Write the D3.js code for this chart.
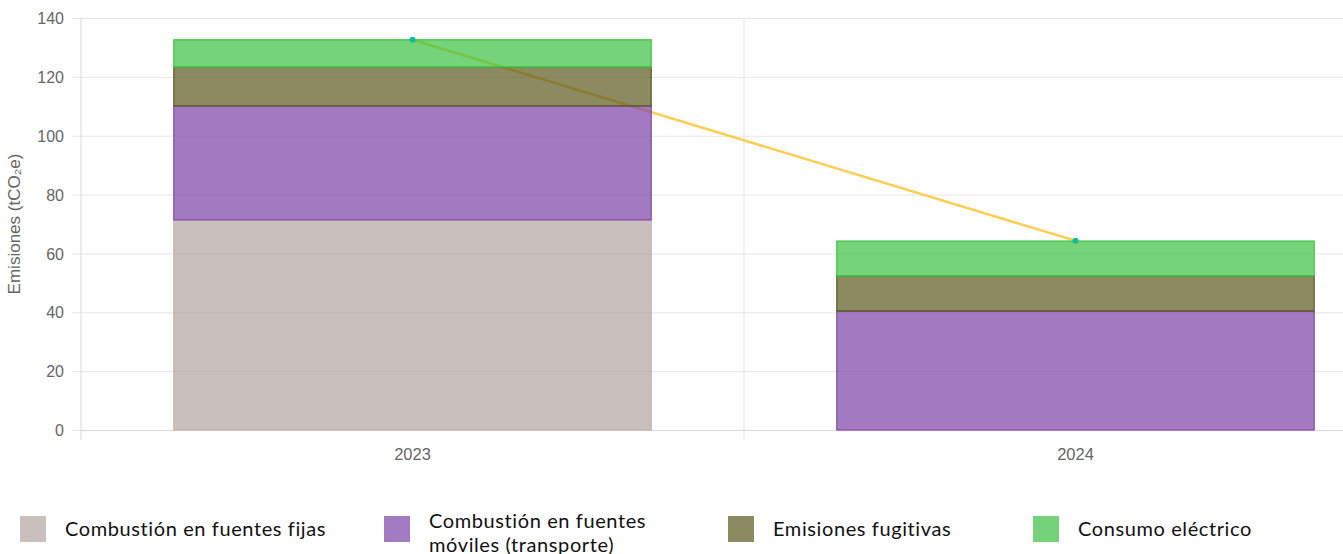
<!DOCTYPE html>
<html>
<head>
<meta charset="utf-8">
<script src="https://cdn.jsdelivr.net/npm/d3@7/dist/d3.min.js"></script>
<style>
  body { margin: 0; background: #fff; overflow: hidden; }
  svg { display: block; }
  .axis text { font-family: "Liberation Sans", Arial, sans-serif; font-size: 16px; fill: #666; }
  .legend text { font-family: Lato, "Noto Sans", sans-serif; font-size: 20px; letter-spacing: 0.6px; fill: #111; }
</style>
</head>
<body>
<svg id="chart" width="1343" height="554"></svg>
<script>
// data
const years = ['2023', '2024'];
const fijas = [71.4, 0];
const moviles = [38.7, 40.4];
const fugitivas = [13.2, 11.9];
const electrico = [9.3, 11.9];
const totals = [132.6, 64.3];
const yTicks = [0, 20, 40, 60, 80, 100, 120, 140];

const seriesNames = ['Combustión en fuentes fijas', 'Combustión en fuentes móviles (transporte)', 'Emisiones fugitivas', 'Consumo eléctrico'];
const seriesValues = [fijas, moviles, fugitivas, electrico];
const fills = ['rgb(178,164,161)', 'rgb(124,66,168)', 'rgb(91,88,28)', 'rgb(59,194,65)'];
const strokes = ['#c2b3b0', '#8e44ad', '#5b5a26', '#3cc43c'];
const legendColors = ['#c9bfbd', '#a37bc2', '#8c8a60', '#74d378'];

const svg = d3.select('#chart');
const plotL = 81, plotT = 18, plotB = 430, plotR = 1407; // plot runs past the window edge

const x = d3.scaleBand().domain(years).range([plotL, plotR]).paddingInner(0.28).paddingOuter(0.14);
const y = d3.scaleLinear().domain([0, 140]).range([plotB, plotT]);

// horizontal grid + y axis
const yAxis = d3.axisLeft(y).tickValues(yTicks).tickSize(-(plotR - plotL)).tickPadding(17);
const gy = svg.append('g').attr('class', 'axis').attr('transform', `translate(${plotL},0)`).call(yAxis);
gy.select('.domain').remove();
gy.selectAll('.tick line').attr('stroke', '#e6e6e6').attr('x1', -9);
gy.selectAll('.tick text').attr('dy', '0.35em');

// vertical grid at category boundaries
const step = x.step();
const bounds = [plotL, plotL + step, plotL + 2 * step];
svg.append('g').selectAll('line').data(bounds).join('line')
  .attr('x1', d => d).attr('x2', d => d)
  .attr('y1', plotT).attr('y2', plotB + 10)
  .attr('stroke', (d, i) => i === 0 ? '#d9d9d9' : '#e6e6e6');

// x axis
const gx = svg.append('g').attr('class', 'axis').attr('transform', `translate(0,${plotB})`)
  .call(d3.axisBottom(x).tickSize(0).tickPadding(18));
gx.select('.domain').attr('stroke', '#d9d9d9').attr('d', `M${plotL},0.5H${plotR}`);
gx.selectAll('.tick text').style('font-size', '16.5px');

// total line (drawn beneath translucent bars)
const line = d3.line().x((d, i) => x(years[i]) + x.bandwidth() / 2).y(d => y(d));
svg.append('path').datum(totals)
  .attr('d', line).attr('fill', 'none')
  .attr('stroke', '#fcc634').attr('stroke-width', 2.5).attr('stroke-opacity', 0.85);

// stacked bars
const rows = years.map((yr, i) => {
  const r = { year: yr };
  seriesNames.forEach((n, k) => r[n] = seriesValues[k][i]);
  return r;
});
const stacked = d3.stack().keys(seriesNames)(rows);
svg.append('g').selectAll('g').data(stacked).join('g')
  .attr('fill', (d, i) => fills[i]).attr('fill-opacity', 0.7)
  .attr('stroke', (d, i) => strokes[i]).attr('stroke-width', 1.2)
  .selectAll('rect').data(d => d.filter(v => v[1] - v[0] > 0)).join('rect')
  .attr('x', d => x(d.data.year))
  .attr('width', x.bandwidth())
  .attr('y', d => y(d[1]))
  .attr('height', d => y(d[0]) - y(d[1]));

// points of the total line
svg.append('g').selectAll('circle').data(totals).join('circle')
  .attr('cx', (d, i) => x(years[i]) + x.bandwidth() / 2)
  .attr('cy', d => y(d))
  .attr('r', 3).attr('fill', '#0bbf9c');

// y axis title
svg.append('text')
  .attr('transform', 'translate(20,224) rotate(-90)')
  .attr('text-anchor', 'middle')
  .style('font-family', '"Liberation Sans", Arial, sans-serif')
  .style('font-size', '17px').attr('fill', '#666')
  .text('Emisiones (tCO₂e)');

// legend
const legendX = [20, 384, 728, 1033];
const legendLines = [['Combustión en fuentes fijas'], ['Combustión en fuentes', 'móviles (transporte)'], ['Emisiones fugitivas'], ['Consumo eléctrico']];
const lg = svg.append('g').attr('class', 'legend').selectAll('g').data(seriesNames).join('g')
  .attr('transform', (d, i) => `translate(${legendX[i]},516)`);
lg.append('rect').attr('width', 26).attr('height', 26).attr('fill', (d, i) => legendColors[i]);
lg.append('text').attr('x', 45).each(function (d, i) {
  const t = d3.select(this);
  const ls = legendLines[i];
  ls.forEach((s, k) => {
    t.append('tspan').attr('x', 45)
      .attr('y', (ls.length > 1 ? 17 : 13) + (k - (ls.length - 1) / 2) * 24)
      .attr('dy', '0.35em').text(s);
  });
});
</script>
</body>
</html>
